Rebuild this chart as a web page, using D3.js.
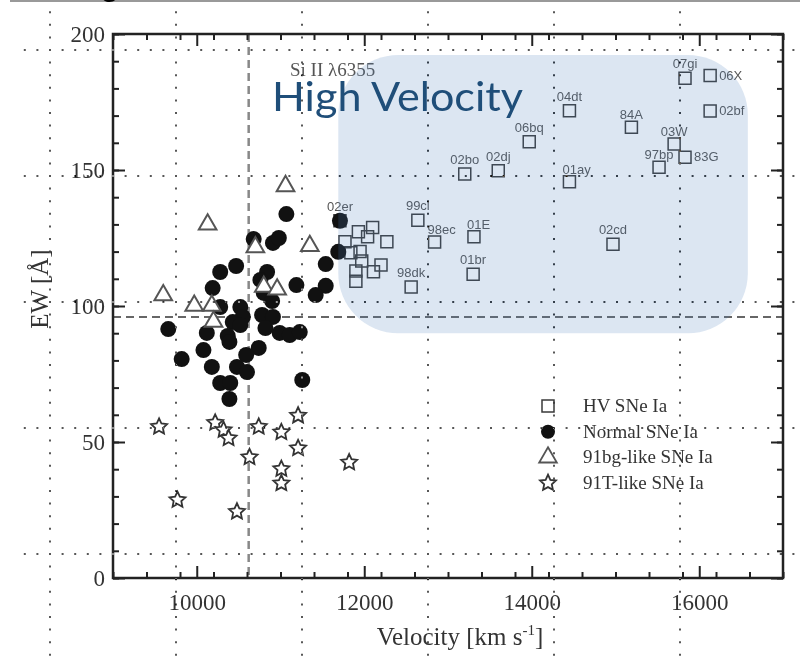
<!DOCTYPE html>
<html><head><meta charset="utf-8">
<script src="https://cdn.jsdelivr.net/npm/d3@7"></script>
<style>body{margin:0;background:#fff}svg{display:block}</style>
</head><body><svg id="c" width="800" height="658"></svg>
<script>
// ---- data ----
const hvNames = ["07gi","06X","04dt","84A","02bf","06bq","03W","83G","97bp","02bo","02dj","01ay","99cl","98ec","01E","01br","98dk","02cd","02er","","","","","","","","","","","",""];
const hvVel = [15830,16130,14450,15190,16130,13970,15700,15830,15520,13200,13600,14450,12640,12840,13310,13300,12560,14970,11710,11930,12100,12040,11770,12270,11840,11950,11970,12200,12110,11900,11900];
const hvEW  = [183.7,184.7,171.8,165.7,171.7,160.4,159.6,154.7,151.0,148.5,149.7,145.7,131.5,123.5,125.5,111.7,107.0,122.7,131.3,127.3,128.9,125.5,123.6,123.6,119.6,120.0,116.5,115.1,112.6,112.9,109.1];
const hvLabelPlace = ["a","r","a","as","r","a","as","r","as","a","a","ar","a","ar","ar","a","a","a","a"];
const normVel = [11070,10680,10910,10980,11710,11690,11540,10470,10280,10840,10190,10760,11190,11540,11420,10800,10900,10280,10520,10550,10430,10520,10780,10910,9660,10120,10820,10370,10390,10990,11110,11230,10080,10740,9820,10590,10180,10480,10600,10280,10400,11260,10390];
const normEW  = [133.8,124.6,123.2,125.0,131.3,119.9,115.4,114.7,112.5,112.5,106.6,109.6,107.7,107.4,104.0,104.8,101.8,99.6,99.6,96.0,94.1,93.0,96.7,96.0,91.5,90.1,91.9,89.0,86.8,90.1,89.3,90.4,83.8,84.6,80.5,82.0,77.6,77.6,75.7,71.7,71.7,72.8,65.8];
const bgVel = [11060,10130,10700,11350,9600,9970,10180,10200,10800,10960];
const bgEW  = [144.1,130.0,121.6,122.1,104.0,100.1,100.1,94.2,107.1,106.1];
const tVel = [9550,10220,10320,10380,10740,11010,11210,11210,10630,11010,11010,11820,9770,10480];
const tEW  = [55.6,57.1,54.4,51.4,55.6,53.6,59.7,47.7,44.4,40.1,34.8,42.5,28.7,24.4];
const xMajorTicks = [10000,12000,14000,16000];
const yMajorTicks = [0,50,100,150,200];
const legendLabels = ["HV SNe Ia","Normal SNe Ia","91bg-like SNe Ia","91T-like SNe Ia"];
const velCut = 10620, ewCut = 96;
const hvBox = {v0:11690, v1:16580, e0:90, e1:192.3};

// ---- layout ----
const svg = d3.select("#c");
const W = 800, H = 658;
const x = d3.scaleLinear().domain([9000,17000]).range([113,783]);
const y = d3.scaleLinear().domain([0,200]).range([578,34]);
const serif = "'Liberation Serif','Times New Roman',serif";

svg.append("rect").attr("width",W).attr("height",H).attr("fill","#fff");

// top remnants of the slide
svg.append("line").attr("x1",10).attr("x2",800).attr("y1",1).attr("y2",1).attr("stroke","#999").attr("stroke-width",2);
svg.append("text").attr("x",102).attr("y",-3).attr("font-family","Lato, sans-serif").attr("font-size",30).attr("fill","#000").text("g");

// dashed cut lines
svg.append("line").attr("x1",x(velCut)).attr("x2",x(velCut)).attr("y1",y(200)).attr("y2",y(0))
  .attr("stroke","#888").attr("stroke-width",2.5).attr("stroke-dasharray","8,5");
svg.append("line").attr("x1",x(9000)).attr("x2",x(17000)).attr("y1",y(ewCut)).attr("y2",y(ewCut))
  .attr("stroke","#666").attr("stroke-width",2).attr("stroke-dasharray","8,5");

// axes: frame + ticks
const minorX = d3.range(9000,17001,400), minorY = d3.range(0,201,10);
function addAxis(gen, tr, vals, size, labels){
  const g = svg.append("g").attr("transform",tr)
    .call(gen.tickValues(vals).tickSizeInner(-size).tickSizeOuter(0).tickPadding(labels?16:0).tickFormat(labels? d3.format("d") : ""));
  g.select(".domain").remove();
  g.selectAll(".tick line").attr("stroke","#222").attr("stroke-width",2);
  g.selectAll(".tick text").attr("font-family",serif).attr("font-size",23).attr("fill","#333");
  return g;
}
addAxis(d3.axisBottom(x), `translate(0,${y(0)})`, minorX, 6, false);
addAxis(d3.axisBottom(x), `translate(0,${y(0)})`, xMajorTicks, 12, true);
addAxis(d3.axisTop(x), `translate(0,${y(200)})`, minorX, 6, false);
addAxis(d3.axisTop(x), `translate(0,${y(200)})`, xMajorTicks, 12, false);
addAxis(d3.axisLeft(y), `translate(${x(9000)},0)`, minorY, 6, false);
const yM = addAxis(d3.axisLeft(y), `translate(${x(9000)},0)`, yMajorTicks, 12, true);
yM.selectAll(".tick text").attr("x",-8);
addAxis(d3.axisRight(y), `translate(${x(17000)},0)`, minorY, 6, false);
addAxis(d3.axisRight(y), `translate(${x(17000)},0)`, yMajorTicks, 12, false);
svg.append("rect").attr("x",x(9000)).attr("y",y(200)).attr("width",x(17000)-x(9000)).attr("height",y(0)-y(200))
  .attr("fill","none").attr("stroke","#222").attr("stroke-width",2.5);

// axis titles
svg.append("text").attr("x",(x(9000)+x(17000))/2+12).attr("y",645).attr("text-anchor","middle")
  .attr("font-family",serif).attr("font-size",25).attr("fill","#333")
  .html('Velocity [km s<tspan dy="-10" font-size="15">-1</tspan><tspan dy="10">]</tspan>');
svg.append("text").attr("transform",`translate(48,${(y(0)+y(200))/2-17}) rotate(-90)`).attr("text-anchor","middle")
  .attr("font-family",serif).attr("font-size",25).attr("fill","#333").text("EW [Å]");
svg.append("text").attr("x",290).attr("y",76).attr("font-family",serif).attr("font-size",19).attr("fill","#555").text("Si II λ6355");

// symbols
const fatStar = {draw(ctx, size){
  const R = Math.sqrt(size)/1.1, r = R*0.48;
  for(let k=0;k<10;k++){
    const a = -Math.PI/2 + k*Math.PI/5, rr = k%2 ? r : R;
    const px = rr*Math.cos(a), py = rr*Math.sin(a);
    k ? ctx.lineTo(px,py) : ctx.moveTo(px,py);
  }
  ctx.closePath();
}};
const sq = d3.symbol().type(d3.symbolSquare).size(144);
const tri = d3.symbol().type(d3.symbolTriangle).size(135);
const star = d3.symbol().type(fatStar).size(85);

const hv = hvVel.map((v,i)=>({v, e:hvEW[i], n:hvNames[i], p:hvLabelPlace[i]}));
svg.append("g").selectAll("path").data(hv).join("path")
  .attr("d",sq).attr("transform",d=>`translate(${x(d.v)},${y(d.e)})`)
  .attr("fill","none").attr("stroke","#3a3a3a").attr("stroke-width",1.5);
const off = {a:[0,-10,"middle"], as:[0,-8,"middle"], r:[9,4,"start"], ar:[-7,-8,"start"]};
svg.append("g").selectAll("text").data(hv.filter(d=>d.n)).join("text")
  .attr("x",d=>x(d.v)+off[d.p][0]).attr("y",d=>y(d.e)+off[d.p][1]).attr("text-anchor",d=>off[d.p][2])
  .attr("font-family","'Liberation Sans',Arial,sans-serif").attr("font-size",13).attr("fill","#555").text(d=>d.n);

svg.append("g").selectAll("circle").data(normVel.map((v,i)=>({v,e:normEW[i]}))).join("circle")
  .attr("cx",d=>x(d.v)).attr("cy",d=>y(d.e)).attr("r",8).attr("fill","#111");
svg.append("g").selectAll("path").data(bgVel.map((v,i)=>({v,e:bgEW[i]}))).join("path")
  .attr("d",tri).attr("transform",d=>`translate(${x(d.v)},${y(d.e)})`)
  .attr("fill","#fff").attr("stroke","#555").attr("stroke-width",2);
svg.append("g").selectAll("path").data(tVel.map((v,i)=>({v,e:tEW[i]}))).join("path")
  .attr("d",star).attr("transform",d=>`translate(${x(d.v)},${y(d.e)})`)
  .attr("fill","#fff").attr("stroke","#333").attr("stroke-width",1.8);

// legend
const shapes = [sq, null, tri, star];
const lg = svg.append("g");
legendLabels.forEach((t,i)=>{
  const cy = 406 + i*25.7;
  if(i===1) lg.append("circle").attr("cx",548).attr("cy",cy).attr("r",7).attr("fill","#111");
  else lg.append("path").attr("d",shapes[i]).attr("transform",`translate(548,${cy})`)
    .attr("fill", i===0?"none":"#fff").attr("stroke", i===0?"#3a3a3a":(i===2?"#555":"#333")).attr("stroke-width",i===0?1.5:1.8);
  lg.append("text").attr("x",583).attr("y",cy+6).attr("font-family",serif).attr("font-size",19).attr("fill","#333").text(t);
});

// highlight overlay
svg.append("rect").attr("x",x(hvBox.v0)).attr("y",y(hvBox.e1)).attr("width",x(hvBox.v1)-x(hvBox.v0)).attr("height",y(hvBox.e0)-y(hvBox.e1))
  .attr("rx",60).attr("ry",60).attr("fill","#4f81bd").attr("fill-opacity",0.2);

// dotted overlay grid
const gridPos = [50,176,302,428,554,680];
const gg = svg.append("g").style("mix-blend-mode","difference");
gridPos.forEach(p=>{
  gg.append("line").attr("x1",p).attr("x2",p).attr("y1",11.2).attr("y2",H)
    .attr("stroke","#a8a8a8").attr("stroke-width",2).attr("stroke-dasharray","2,10.6");
  if(p<660) gg.append("line").attr("y1",p).attr("y2",p).attr("x1",23.8).attr("x2",W)
    .attr("stroke","#a8a8a8").attr("stroke-width",2).attr("stroke-dasharray","2,10.6");
});

svg.append("text").attr("x",272).attr("y",111).attr("font-family","Lato, 'Open Sans', sans-serif").attr("font-size",40)
  .attr("fill","#1f4e79").attr("textLength",251).attr("lengthAdjust","spacingAndGlyphs").text("High Velocity");
</script></body></html>
